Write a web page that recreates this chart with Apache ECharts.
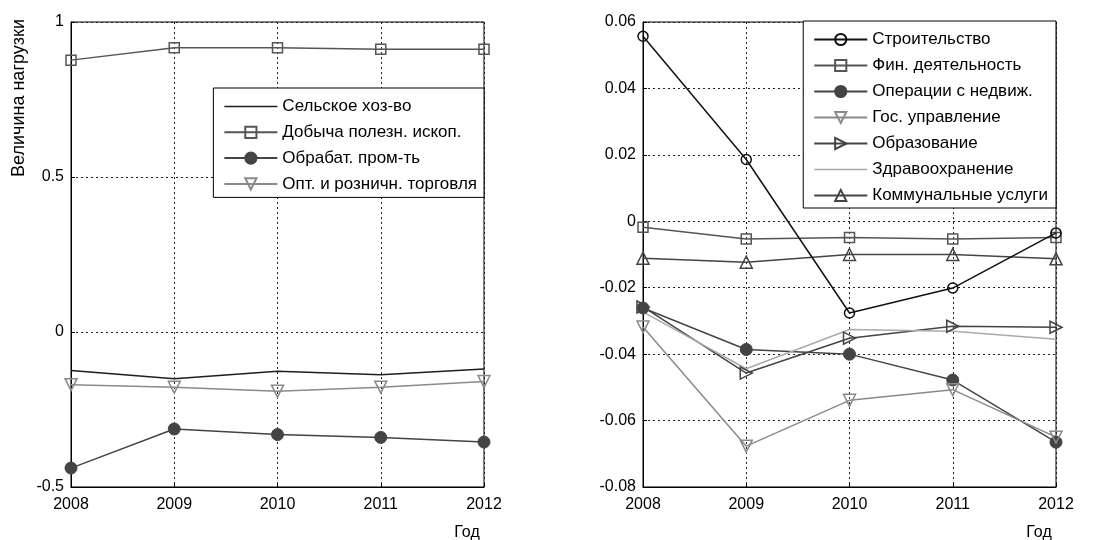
<!DOCTYPE html>
<html><head><meta charset="utf-8">
<script src="https://cdn.jsdelivr.net/npm/echarts@6/dist/echarts.min.js"></script>
<style>html,body{margin:0;padding:0;background:#fff}#c{width:1106px;height:540px}</style>
</head><body><div id="c"></div>
<script>
const years = ['2008','2009','2010','2011','2012'];
const leftYTicks = {min:-0.5, max:1, interval:0.5};
const rightYTicks = {min:-0.08, max:0.06, interval:0.02};
const yAxisTitle = 'Величина нагрузки';
const xAxisTitle = 'Год';

// left panel
const selskoe   = [-0.124, -0.151, -0.127, -0.138, -0.119];
const dobycha   = [0.877, 0.917, 0.917, 0.912, 0.912];
const obrabat   = [-0.439, -0.313, -0.331, -0.340, -0.355];
const optRozn   = [-0.170, -0.178, -0.191, -0.178, -0.160];

// right panel
const stroit    = [0.0557, 0.0186, -0.0276, -0.0201, -0.0035];
const finDeyat  = [-0.0018, -0.0053, -0.0049, -0.0053, -0.0049];
const operNedv  = [-0.0261, -0.0386, -0.0400, -0.0478, -0.0665];
const gosUpr    = [-0.0318, -0.0677, -0.0539, -0.0507, -0.0650];
const obrazov   = [-0.0258, -0.0457, -0.0352, -0.0316, -0.0319];
const zdrav     = [-0.0273, -0.0444, -0.0326, -0.0331, -0.0355];
const kommun    = [-0.0111, -0.0123, -0.0100, -0.0100, -0.0113];

const FONT = 'Liberation Sans, Arial, sans-serif';
const chart = echarts.init(document.getElementById('c'));

function mk(name, data, color, symbol, opts, xi) {
  opts = opts || {};
  const s = {
    name, type:'line', data, xAxisIndex:xi, yAxisIndex:xi,
    symbol: symbol || 'none', symbolSize: opts.size || 10, symbolRotate: opts.rot || 0,
    showSymbol: !!symbol,
    lineStyle:{color, width:1.5},
    itemStyle: opts.filled ? {color, borderColor:color, borderWidth:1}
                           : {color:'rgba(255,255,255,0)', borderColor:color, borderWidth:1.5},
    emphasis:{disabled:true}, animation:false, z: opts.z || 2
  };
  if (!symbol) s.itemStyle = {color};
  return s;
}

const gridLine = {show:true, lineStyle:{color:'#222', type:[2,3], width:1}};
function xAx(gi){ return {type:'category', data:years, boundaryGap:false, gridIndex:gi,
  axisLine:{onZero:false, lineStyle:{color:'#000', width:1}}, axisTick:{inside:true, length:4, lineStyle:{color:'#000'}},
  axisLabel:{color:'#000', fontSize:16, fontFamily:FONT, margin:10},
  splitLine:gridLine}; }
function yAx(gi, t, fmt){ return Object.assign({type:'value', gridIndex:gi,
  axisLine:{show:true, onZero:false, lineStyle:{color:'#000', width:1}}, axisTick:{show:true, inside:true, length:4, lineStyle:{color:'#000'}},
  axisLabel:{color:'#000', fontSize:16, fontFamily:FONT, margin:7, formatter:fmt},
  splitLine:gridLine}, t); }

const fmtNum = v => { const r = Number(v.toFixed(2)); return (r === 0 ? 0 : r).toString(); };

const lineIcon = 'path://M0,0L50,0L50,1.6L0,1.6Z';
const legendCommon = {orient:'vertical', itemWidth:53, itemHeight:14, backgroundColor:'#fff',
  borderColor:'#000', borderWidth:1, borderRadius:0, selectedMode:false, symbolKeepAspect:true,
  textStyle:{color:'#000', fontSize:17, fontFamily:FONT}};

chart.setOption({
  animation:false,
  grid:[
    {left:71, top:22, width:413, height:465, show:true, borderColor:'#000', borderWidth:1, backgroundColor:'#fff'},
    {left:643, top:22, width:413, height:465, show:true, borderColor:'#000', borderWidth:1, backgroundColor:'#fff'}
  ],
  xAxis:[xAx(0), xAx(1)],
  yAxis:[yAx(0, leftYTicks, fmtNum), yAx(1, rightYTicks, fmtNum)],
  legend:[
    Object.assign({}, legendCommon, {right:622, top:88, itemGap:8.8, padding:[10,7,5,10],
      data:[{name:'Сельское хоз-во', icon:lineIcon},'Добыча полезн. ископ.','Обрабат. пром-ть','Опт. и розничн. торговля']}),
    Object.assign({}, legendCommon, {right:50, top:21, itemGap:9, padding:[10,8,4,10],
      data:['Строительство','Фин. деятельность','Операции с недвиж.','Гос. управление','Образование',{name:'Здравоохранение', icon:lineIcon},'Коммунальные услуги']})
  ],
  graphic:[
    {type:'text', x:19, y:98, rotation:Math.PI/2, style:{text:yAxisTitle, fill:'#000', font:'18px '+FONT, align:'center', verticalAlign:'middle'}},
    {type:'text', x:467, y:533, style:{text:xAxisTitle, fill:'#000', font:'16px '+FONT, align:'center', verticalAlign:'middle'}},
    {type:'text', x:1039, y:533, style:{text:xAxisTitle, fill:'#000', font:'16px '+FONT, align:'center', verticalAlign:'middle'}}
  ],
  series:[
    mk('Сельское хоз-во', selskoe, '#1e1e1e', null, {}, 0),
    mk('Добыча полезн. ископ.', dobycha, '#555', 'rect', {size:10}, 0),
    mk('Обрабат. пром-ть', obrabat, '#444', 'circle', {size:12, filled:true}, 0),
    mk('Опт. и розничн. торговля', optRozn, '#8a8a8a', 'triangle', {size:12, rot:180}, 0),

    mk('Строительство', stroit, '#111', 'circle', {size:10, z:5}, 1),
    mk('Фин. деятельность', finDeyat, '#555', 'rect', {size:10}, 1),
    mk('Операции с недвиж.', operNedv, '#444', 'circle', {size:12, filled:true}, 1),
    mk('Гос. управление', gosUpr, '#8a8a8a', 'triangle', {size:12, rot:180}, 1),
    mk('Образование', obrazov, '#444', 'triangle', {size:12, rot:-90}, 1),
    mk('Здравоохранение', zdrav, '#aaa', null, {}, 1),
    mk('Коммунальные услуги', kommun, '#444', 'triangle', {size:12}, 1)
  ]
});
</script></body></html>
